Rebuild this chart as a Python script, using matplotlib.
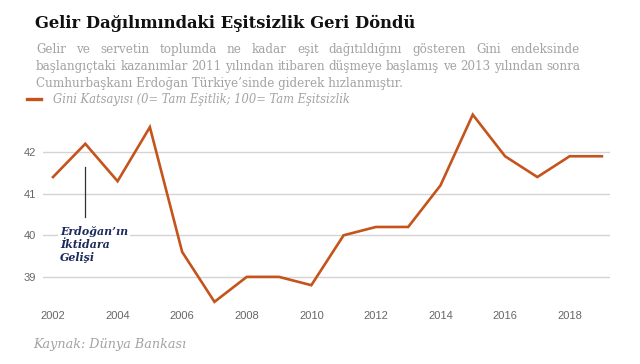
import numpy as np
import matplotlib.pyplot as plt
from matplotlib.lines import Line2D

years = list(range(2002, 2020))
gini = [41.4, 42.2, 41.3, 42.6, 39.6, 38.4, 39.0, 39.0, 38.8, 40.0,
        40.2, 40.2, 41.2, 42.9, 41.9, 41.4, 41.9, 41.9]
xticks = list(range(2002, 2019, 2))
yticks = [39, 40, 41, 42]

title = 'Gelir Dağılımındaki Eşitsizlik Geri Döndü'
subtitle = [
    'Gelir ve servetin toplumda ne kadar eşit dağıtıldığını gösteren Gini endeksinde',
    'başlangıçtaki  kazanımlar 2011 yılından itibaren düşmeye başlamış ve 2013 yılından sonra',
    'Cumhurbaşkanı Erdoğan Türkiye’sinde giderek hızlanmıştır.',
]
legend_label = 'Gini Katsayısı (0= Tam Eşitlik; 100= Tam Eşitsizlik'
note = 'Erdoğan’ın\nİktidara\nGelişi'
source = 'Kaynak: Dünya Bankası'

ORANGE = '#c4541b'
GREY = '#a3a3a3'
NAVY = '#1c2a5c'
SERIF = 'DejaVu Serif'
W, H = 640, 364


def justify_line(fig, text, x0, x1, y, **kw):
    # spread words so the line fills x0..x1 (pixel coords)
    words = text.split()
    rend = fig.canvas.get_renderer()
    objs = [fig.text(0, 0, w, transform=None, va='baseline', **kw) for w in words]
    widths = [o.get_window_extent(rend).width for o in objs]
    gap = (x1 - x0 - sum(widths)) / (len(words) - 1)
    x = x0
    for o, wd in zip(objs, widths):
        o.set_position((x / W, 1 - y / H))
        o.set_transform(fig.transFigure)
        x += wd + gap


fig = plt.figure(figsize=(6.4, 3.64), dpi=100)
ax = fig.add_axes([43 / W, 1 - 306 / H, (610 - 43) / W, (306 - 110.5) / H])

ax.plot(years, gini, color=ORANGE, lw=1.9, solid_joinstyle='miter', zorder=3)
ax.set_xlim(2001.69, 2019.25)
ax.set_ylim(38.3, 43.0)
ax.set_xticks(xticks)
ax.set_yticks(yticks)
ax.grid(axis='y', color='#d4d4d4', lw=1.0)
ax.set_axisbelow(True)
for s in ax.spines.values():
    s.set_visible(False)
ax.tick_params(length=0, labelsize=8, labelcolor='#666666', pad=5)
ax.tick_params(axis='x', pad=3.5)
for lab in ax.get_xticklabels() + ax.get_yticklabels():
    lab.set_family('Liberation Sans')

# annotation
ax.plot([2003, 2003], [41.64, 40.45], color='#333333', lw=0.9, zorder=2)
ax.text(2002.22, 40.22, note, fontsize=7.9, family=SERIF, style='italic',
        weight='bold', color=NAVY, va='top', ha='left', linespacing=1.2,
        bbox=dict(fc='white', ec='none', pad=1.5), zorder=4)

# header
fig.text(35 / W, 1 - 28 / H, title, fontsize=11.8, family=SERIF,
         weight='bold', color='#111111', va='baseline')
sub_kw = dict(fontsize=8.55, family=SERIF, color=GREY)
justify_line(fig, subtitle[0], 36, 580, 53, **sub_kw)
justify_line(fig, subtitle[1], 36, 580, 70, **sub_kw)
fig.text(36 / W, 1 - 87 / H, subtitle[2], va='baseline', **sub_kw)

fig.add_artist(Line2D([27 / W, 41 / W], [1 - 99 / H] * 2, color=ORANGE, lw=2.4))
fig.text(53 / W, 1 - 103 / H, legend_label, fontsize=8.3, family=SERIF,
         style='italic', color=GREY, va='baseline')

fig.text(33 / W, 1 - 348 / H, source, fontsize=9.2, family=SERIF,
         style='italic', color=GREY, va='baseline')

fig.savefig('out.png', dpi=100, facecolor='white')
